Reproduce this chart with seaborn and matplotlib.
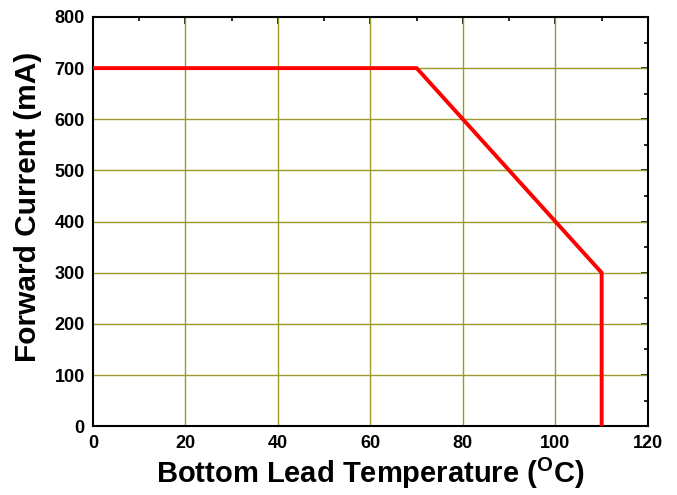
import matplotlib
matplotlib.use("Agg")
import matplotlib.pyplot as plt
import seaborn as sns
import pandas as pd
from matplotlib.ticker import MultipleLocator

temperature = [0, 70, 110, 110]
current = [700, 700, 300, 0]
x_ticks = [0, 20, 40, 60, 80, 100, 120]
y_ticks = [0, 100, 200, 300, 400, 500, 600, 700, 800]

sns.set_theme(style="white")
plt.rcParams['font.family'] = ['Liberation Sans', 'DejaVu Sans']
plt.rcParams['mathtext.fontset'] = 'custom'
plt.rcParams['mathtext.rm'] = 'Liberation Sans:bold'
plt.rcParams['mathtext.bf'] = 'Liberation Sans:bold'
plt.rcParams['mathtext.it'] = 'Liberation Sans:bold'
plt.rcParams['text.color'] = 'black'
plt.rcParams['axes.labelcolor'] = 'black'
plt.rcParams['xtick.color'] = 'black'
plt.rcParams['ytick.color'] = 'black'

df = pd.DataFrame({"T": temperature, "I": current})

fig = plt.figure(figsize=(6.77, 4.95), dpi=100)
ax = fig.add_axes([0.1374, 0.139, 0.8196, 0.8267])

grid_color = "#9a9a2a"
for xv in x_ticks[1:-1]:
    ax.axvline(xv, color=grid_color, lw=1.0, zorder=1)
for yv in y_ticks[1:-1]:
    ax.axhline(yv, color=grid_color, lw=1.0, zorder=1)

sns.lineplot(data=df, x="T", y="I", sort=False, estimator=None, color="#ff0000",
             lw=2.8, ax=ax, zorder=3)

ax.set_xlim(0, 120)
ax.set_ylim(0, 800)
ax.set_xticks(x_ticks)
ax.set_yticks(y_ticks)
ax.xaxis.set_minor_locator(MultipleLocator(10))
ax.yaxis.set_minor_locator(MultipleLocator(50))
ax.tick_params(which="both", direction="in", top=True, right=True, color="black", width=1.2)
ax.tick_params(which="major", length=5, labelsize=13, pad=6)
ax.tick_params(which="minor", length=3)
for lab in ax.get_xticklabels() + ax.get_yticklabels():
    lab.set_fontweight("bold")
for s in ax.spines.values():
    s.set_color("black")
    s.set_linewidth(1.5)
    s.set_visible(True)

ax.set_xlabel(r"Bottom Lead Temperature ($^{\mathrm{O}}$C)", fontsize=21, fontweight="bold", labelpad=3)
ax.set_ylabel("Forward Current (mA)", fontsize=21.5, fontweight="bold")
ax.yaxis.set_label_coords(-0.092, 0.535)

fig.savefig("out.png", dpi=100)
